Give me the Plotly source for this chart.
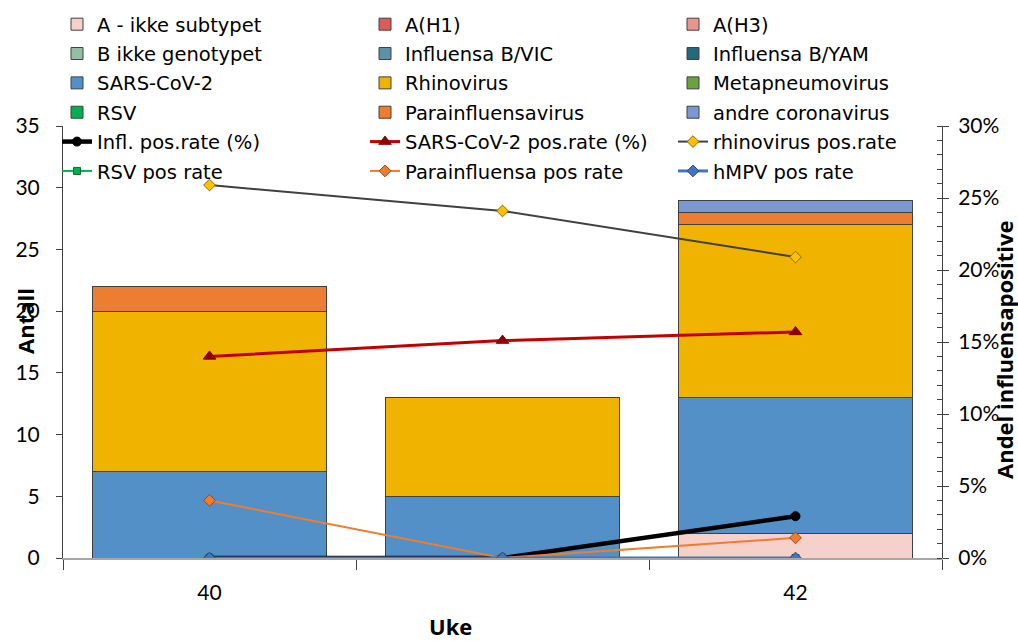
import plotly.graph_objects as go

weeks = [40, 41, 42]
week_labels = ["40", "", "42"]

# stacked bar series (Antall)
a_ikke_subtypet = [0, 0, 2]
a_h1 = [0, 0, 0]
a_h3 = [0, 0, 0]
b_ikke_genotypet = [0, 0, 0]
influensa_b_vic = [0, 0, 0]
influensa_b_yam = [0, 0, 0]
sars_cov_2 = [7, 5, 11]
rhinovirus = [13, 8, 14]
metapneumovirus = [0, 0, 0]
rsv = [0, 0, 0]
parainfluensavirus = [2, 0, 1]
andre_coronavirus = [0, 0, 1]

# positive rates (%)
infl_pos_rate = [0, 0, 2.9]
sars_pos_rate = [14.0, 15.1, 15.7]
rhino_pos_rate = [25.9, 24.1, 20.9]
rsv_pos_rate = [0, 0, 0]
para_pos_rate = [4.0, 0, 1.4]
hmpv_pos_rate = [0, 0, 0]

FONT = "Lato"
LFONT = "DejaVu Sans"
TFONT = "Open Sans"
W, H = 1018, 641
ML, MT = 63, 126
PR, PB = 942, 558
MR, MB = W - PR, H - PB
PW, PH = PR - ML, PB - MT


def px_x(x):
    return (x - ML) / PW


def px_y(y):
    return (PB - y) / PH


fig = go.Figure()

bars = [
    ("A - ikke subtypet", a_ikke_subtypet, "#F6D0CB", "legend"),
    ("A(H1)", a_h1, "#DE5B5B", "legend2"),
    ("A(H3)", a_h3, "#EA9690", "legend3"),
    ("B ikke genotypet", b_ikke_genotypet, "#93BFA8", "legend"),
    ("Influensa B/VIC", influensa_b_vic, "#5B92A6", "legend2"),
    ("Influensa B/YAM", influensa_b_yam, "#236A7C", "legend3"),
    ("SARS-CoV-2", sars_cov_2, "#5490C8", "legend"),
    ("Rhinovirus", rhinovirus, "#EFB300", "legend2"),
    ("Metapneumovirus", metapneumovirus, "#6AA23E", "legend3"),
    ("RSV", rsv, "#00B050", "legend"),
    ("Parainfluensavirus", parainfluensavirus, "#ED7D31", "legend2"),
    ("andre coronavirus", andre_coronavirus, "#7B98D2", "legend3"),
]
for name, vals, col, lg in bars:
    fig.add_trace(go.Bar(
        x=weeks, y=[v if v else None for v in vals], name=name,
        marker=dict(color=col, line=dict(color="#404040", width=1)),
        width=0.8, legend=lg, legendgroup=name, yaxis="y",
    ))

lines = [
    ("Infl. pos.rate (%)", infl_pos_rate, "#000000", 4.5, "circle", 9, "#000000", "#000000", "legend"),
    ("SARS-CoV-2 pos.rate (%)", sars_pos_rate, "#C00000", 3, "triangle-up", 11, "#8B0000", "#8B0000", "legend2"),
    ("rhinovirus pos.rate", rhino_pos_rate, "#404040", 2, "diamond", 9, "#FFC000", "#8C6A00", "legend3"),
    ("RSV pos rate", rsv_pos_rate, "#00B050", 2, "square", 7, "#00B050", "#1E5E32", "legend"),
    ("Parainfluensa pos rate", para_pos_rate, "#ED7D31", 2, "diamond", 9, "#ED7D31", "#9C4A12", "legend2"),
    ("hMPV pos rate", hmpv_pos_rate, "#4472C4", 3, "diamond", 9, "#4472C4", "#2A4A80", "legend3"),
]
for name, vals, col, lw, sym, ms, mc, mlc, lg in lines:
    fig.add_trace(go.Scatter(
        x=weeks, y=vals, name=name, mode="lines+markers", yaxis="y2",
        line=dict(color=col, width=lw),
        marker=dict(symbol=sym, size=ms, color=mc, line=dict(color=mlc, width=1)),
        legend=lg, legendgroup=name,
    ))

leg_common = dict(
    xref="paper", yref="paper", yanchor="top", xanchor="left",
    orientation="v", traceorder="grouped", tracegroupgap=1, bgcolor="rgba(0,0,0,0)",
    font=dict(family=LFONT, size=19.5, color="#000000"),
    itemwidth=30, borderwidth=0,
)
top = px_y(5)
fig.update_layout(
    width=W, height=H,
    margin=dict(l=ML, r=MR, t=MT, b=MB, autoexpand=False),
    plot_bgcolor="white", paper_bgcolor="white",
    barmode="stack", bargap=0.2,
    font=dict(family=FONT, size=21, color="#000000"),
    showlegend=True,
    legend=dict(x=px_x(57), y=top, **leg_common),
    legend2=dict(x=px_x(365), y=top, **leg_common),
    legend3=dict(x=px_x(673), y=top, **leg_common),
    xaxis=dict(
        range=[39.5, 42.5], tickmode="array", tickvals=weeks, ticktext=week_labels,
        showline=True, linecolor="#A6A6A6", linewidth=1.5, ticks="",
        showgrid=False, zeroline=False, ticklabelstandoff=15,
        tickfont=dict(family=FONT, size=21, color="#000000"),
        minor=dict(tick0=39.5, dtick=1, ticks="outside", ticklen=10,
                   tickcolor="#404040", tickwidth=1, showgrid=False),
    ),
    yaxis=dict(
        range=[0, 35], dtick=5, showline=True, linecolor="#404040", linewidth=1,
        ticks="outside", ticklen=6, tickcolor="#404040", showgrid=False, zeroline=False,
        tickfont=dict(family=FONT, size=21, color="#000000"), ticklabelstandoff=12,
    ),
    yaxis2=dict(
        range=[0, 30], dtick=5, ticksuffix="%", overlaying="y", side="right",
        showline=True, linecolor="#404040", linewidth=1,
        ticks="outside", ticklen=6, tickcolor="#404040", showgrid=False, zeroline=False,
        tickfont=dict(family=FONT, size=21, color="#000000"), ticklabelstandoff=5,
        minor=dict(dtick=1, ticks="inside", ticklen=5, tickcolor="#404040", showgrid=False),
    ),
    annotations=[
        dict(text="<b>Antall</b>", xref="paper", yref="paper", x=px_x(25), y=px_y(321),
             textangle=-90, showarrow=False, xanchor="center", yanchor="middle",
             font=dict(family=TFONT, size=22, color="#000000")),
        dict(text="<b>Andel influensapositive</b>", xref="paper", yref="paper",
             x=px_x(1004), y=px_y(350),
             textangle=-90, showarrow=False, xanchor="center", yanchor="middle",
             font=dict(family=TFONT, size=22, color="#000000")),
        dict(text="<b>Uke</b>", xref="paper", yref="paper", x=px_x(450), y=px_y(626),
             showarrow=False, xanchor="center", yanchor="middle",
             font=dict(family=TFONT, size=22, color="#000000")),
    ],
)

fig.write_html(
    "out.html",
    config={"displayModeBar": False},
    post_script="document.body.style.margin='0';document.body.style.overflow='hidden';",
)
